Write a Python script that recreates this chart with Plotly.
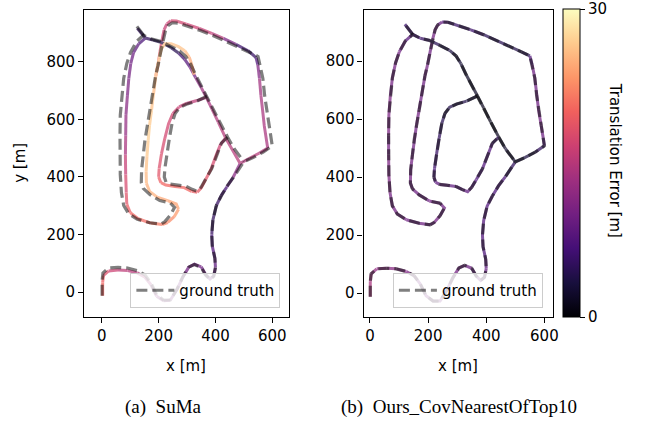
import plotly.graph_objects as go
from plotly.colors import sequential, make_colorscale, sample_colorscale, unlabel_rgb

# ---------------- data (metres) ----------------
gt_main_x = [1, 1, 4, 23, 57, 91, 125, 152, 173, 193,
             217, 241, 265, 285, 306, 326, 350, 365, 381, 394,
             400, 398, 389, 387, 391, 403, 421, 442, 466, 500,
             534, 568, 600, 596, 589, 580, 573, 567, 558, 550,
             521, 476, 432, 391, 347, 302, 268, 248, 233, 224,
             215, 207, 198, 189, 178, 169, 160, 152, 146, 140,
             139, 146, 169, 204, 241, 256, 241, 221, 207, 169,
             125, 94, 77, 69, 65, 64, 64, 65, 70, 77,
             88, 101, 122, 147, 173, 206, 241, 274, 296, 313,
             331, 350, 370, 391, 415, 443, 466, 500]
gt_main_y = [-12, 39, 67, 84, 86, 84, 75, 60, 32, -9,
             -27, -27, 11, 53, 87, 96, 86, 60, 44, 55,
             85, 118, 160, 200, 250, 300, 335, 370, 402, 453,
             468, 486, 508, 535, 577, 632, 684, 742, 787, 818,
             832, 853, 874, 891, 908, 923, 934, 935, 925, 908,
             873, 832, 787, 749, 684, 632, 580, 529, 477, 425,
             380, 360, 339, 318, 310, 294, 267, 244, 236, 241,
             253, 273, 301, 346, 408, 477, 543, 615, 681, 742,
             794, 832, 870, 892, 879, 871, 854, 837, 818, 791,
             753, 715, 680, 639, 591, 538, 498, 453]
gt_loop_x = [370, 332, 298, 274, 258, 247, 238, 229, 222, 220, 226,
             240, 265, 296, 318, 336, 350, 366, 387, 409, 421, 443]
gt_loop_y = [680, 662, 652, 641, 620, 585, 535, 480, 430, 400, 382,
             375, 372, 368, 357, 350, 365, 392, 429, 486, 517, 538]
gt_stub_x = [147, 120]
gt_stub_y = [892, 927]

ours_main_err = [14, 14, 13, 12, 12, 11, 11, 10, 10, 10,
                 10, 10, 10, 10, 10, 10, 9, 9, 9, 9,
                 9, 8, 6, 9, 6, 9, 6, 8, 6, 4,
                 3, 4, 6, 9, 10, 10, 9, 10, 9, 6,
                 3, 5, 4, 5, 7, 4, 7, 8, 10, 10,
                 10, 9, 10, 10, 9, 10, 10, 9, 10, 10,
                 10, 10, 9, 10, 10, 9, 10, 10, 10, 9,
                 10, 10, 10, 10, 11, 10, 10, 11, 10, 10,
                 10, 10, 9, 7, 6, 5, 4, 4, 3, 3,
                 2, 2, 2, 1, 1, 2, 2, 3]
ours_loop_err = [3, 4, 4, 4, 4, 5, 5, 6, 6, 7, 8,
                 9, 9, 8, 8, 9, 8, 7, 7, 8, 7, 4]
ours_stub_err = [6, 6]

suma_main_x = [3, 3, 6, 24, 57, 91, 125, 152, 173, 193,
               217, 241, 265, 285, 306, 326, 350, 365, 381, 394,
               400, 398, 389, 387, 391, 403, 420, 440, 462, 487,
               520, 555, 584, 578, 572, 566, 560, 555, 549, 543,
               515, 472, 428, 387, 343, 298, 263, 243, 229, 219,
               212, 205, 198, 190, 182, 175, 168, 163, 159, 156,
               157, 168, 195, 232, 262, 270, 255, 232, 212, 172,
               128, 100, 88, 86, 84, 83, 84, 85, 90, 95,
               102, 112, 130, 153, 180, 211, 243, 270, 292, 310,
               330, 350, 368, 388, 410, 436, 458, 487]
suma_main_y = [-12, 35, 58, 74, 77, 75, 67, 52, 26, -14,
               -30, -28, 10, 52, 87, 97, 88, 62, 46, 57,
               86, 118, 160, 200, 250, 300, 335, 365, 398, 447,
               465, 483, 500, 532, 577, 632, 684, 742, 790, 814,
               838, 860, 881, 898, 915, 930, 941, 942, 931, 910,
               875, 835, 790, 750, 688, 632, 578, 525, 472, 420,
               378, 350, 330, 318, 306, 288, 262, 242, 235, 240,
               255, 276, 305, 346, 408, 477, 543, 615, 681, 742,
               794, 832, 862, 882, 875, 866, 849, 830, 808, 782,
               745, 710, 676, 635, 590, 535, 497, 447]
suma_main_err = [20, 20, 19, 17, 16, 15, 15, 14, 13, 12,
                 11, 11, 10, 10, 10, 10, 10, 9, 9, 9,
                 9, 8, 7, 6, 5, 5, 6, 7, 9, 14,
                 15, 15, 14, 14, 14, 14, 14, 13, 9, 6,
                 5, 7, 14, 16, 16, 17, 17, 17, 16, 16,
                 17, 18, 20, 25, 26, 26, 27, 27, 26, 26,
                 25, 25, 25, 24, 24, 24, 23, 22, 22, 21,
                 20, 20, 19, 18, 17, 15, 13, 12, 11, 10,
                 10, 9, 8, 6, 4, 4, 4, 5, 7, 9,
                 11, 13, 14, 14, 15, 15, 15, 15]
suma_loop_x = [368, 335, 298, 272, 250, 235, 222, 210, 202, 200, 208,
               225, 258, 290, 316, 336, 350, 365, 385, 405, 418, 436]
suma_loop_y = [676, 665, 655, 643, 620, 585, 535, 480, 430, 400, 380,
               372, 367, 363, 350, 347, 362, 390, 428, 482, 513, 535]
suma_loop_err = [14, 15, 16, 16, 17, 17, 17, 18, 18, 19, 20,
                 20, 20, 20, 20, 19, 19, 19, 18, 17, 16, 15]
suma_stub_x = [153, 125]
suma_stub_y = [882, 916]
suma_stub_err = [5, 5]
suma_extra_x = [325, 318, 308, 292, 270, 244, 222, 210, 202, 195, 190]
suma_extra_y = [755, 785, 815, 838, 852, 862, 862, 845, 812, 780, 750]
suma_extra_err = [22, 24, 25, 26, 26, 26, 26, 26, 26, 25, 25]

err_max = 30
x_ticks = [0, 200, 400, 600]
y_ticks = [0, 200, 400, 600, 800]

# ---------------- helpers ----------------
W, H = 646, 422
CS = make_colorscale(sequential.Magma)
ALPHA = 0.72
FONT = "DejaVu Sans"


def err_color(v):
    t = min(max(v / err_max, 0.0), 1.0)
    r, g, b = unlabel_rgb(sample_colorscale(CS, [t])[0])
    r, g, b = [ALPHA * c + (1 - ALPHA) * 255 for c in (r, g, b)]
    return "rgb(%d,%d,%d)" % (round(r), round(g), round(b))


def add_colored(fig, xs, ys, errs, xa, ya):
    n = len(xs)
    i = 0
    while i < n - 1:
        c = err_color((errs[i] + errs[i + 1]) / 2)
        j = i + 1
        while j < n - 1 and err_color((errs[j] + errs[j + 1]) / 2) == c:
            j += 1
        fig.add_trace(go.Scatter(x=xs[i:j + 1], y=ys[i:j + 1], mode="lines",
                                 line=dict(color=c, width=3),
                                 showlegend=False, hoverinfo="skip",
                                 xaxis=xa, yaxis=ya))
        i = j


def px2fx(p):
    return p / W


def px2fy(p):
    return 1 - p / H


fig = go.Figure()

# SuMa panel
add_colored(fig, suma_main_x, suma_main_y, suma_main_err, "x", "y")
add_colored(fig, suma_loop_x, suma_loop_y, suma_loop_err, "x", "y")
add_colored(fig, suma_stub_x, suma_stub_y, suma_stub_err, "x", "y")
add_colored(fig, suma_extra_x, suma_extra_y, suma_extra_err, "x", "y")
# Ours panel
add_colored(fig, gt_main_x, gt_main_y, ours_main_err, "x2", "y2")
add_colored(fig, gt_loop_x, gt_loop_y, ours_loop_err, "x2", "y2")
add_colored(fig, gt_stub_x, gt_stub_y, ours_stub_err, "x2", "y2")

gt_x = gt_main_x + [None] + gt_loop_x + [None] + gt_stub_x
gt_y = gt_main_y + [None] + gt_loop_y + [None] + gt_stub_y
for xa, ya, lg in (("x", "y", "legend"), ("x2", "y2", "legend2")):
    fig.add_trace(go.Scatter(x=gt_x, y=gt_y, mode="lines", name="ground truth",
                             line=dict(color="rgba(0,0,0,0.5)", width=3.2, dash="11px,5px"),
                             xaxis=xa, yaxis=ya, legend=lg, hoverinfo="skip"))

# colorbar carrier
fig.add_trace(go.Scatter(
    x=[-5000], y=[-5000], mode="markers", showlegend=False, hoverinfo="skip",
    xaxis="x2", yaxis="y2",
    marker=dict(size=2, color=[0], colorscale="Magma", cmin=0, cmax=err_max,
                showscale=True,
                colorbar=dict(x=px2fx(568), xanchor="left", xpad=0,
                              y=px2fy(317), yanchor="bottom", ypad=0,
                              len=(317 - 9.5) / H, lenmode="fraction",
                              thickness=17, thicknessmode="pixels",
                              outlinewidth=1, outlinecolor="black",
                              tickvals=[0, err_max], ticks="outside", ticklen=5,
                              tickwidth=1.2, tickcolor="black",
                              tickfont=dict(family=FONT, size=15, color="black")))))

axis_common = dict(showgrid=False, zeroline=False, showline=True, mirror=True,
                   linecolor="black", linewidth=1.3, ticks="outside", ticklen=5,
                   tickwidth=1.2, tickcolor="black",
                   tickfont=dict(family=FONT, size=15, color="black"))

legend_common = dict(yanchor="bottom", y=px2fy(308), xanchor="right",
                     bgcolor="rgba(255,255,255,0.8)", bordercolor="#cccccc",
                     borderwidth=1, itemwidth=38,
                     font=dict(family=FONT, size=15, color="black"))

y_dom = [px2fy(317), px2fy(9.5)]
fig.update_layout(
    width=W, height=H, margin=dict(l=0, r=0, t=0, b=0),
    paper_bgcolor="white", plot_bgcolor="white",
    xaxis=dict(domain=[px2fx(85), px2fx(292)], range=[-62, 660], tickvals=x_ticks,
               anchor="y", **axis_common),
    yaxis=dict(domain=y_dom, range=[-86, 981], tickvals=y_ticks, anchor="x", **axis_common),
    xaxis2=dict(domain=[px2fx(367), px2fx(558)], range=[-22, 629], tickvals=x_ticks,
                anchor="y2", **axis_common),
    yaxis2=dict(domain=y_dom, range=[-82, 978], tickvals=y_ticks, anchor="x2", **axis_common),
    legend=dict(x=px2fx(283), **legend_common),
    legend2=dict(x=px2fx(548), **legend_common),
)

annots = [
    dict(text="y [m]", x=px2fx(20), y=px2fy(163), textangle=-90),
    dict(text="x [m]", x=px2fx(188), y=px2fy(366)),
    dict(text="x [m]", x=px2fx(462), y=px2fy(366)),
    dict(text="Translation Error [m]", x=px2fx(621), y=px2fy(160), textangle=90),
]
for a in annots:
    fig.add_annotation(xref="paper", yref="paper", showarrow=False,
                       font=dict(family=FONT, size=15, color="black"),
                       xanchor="center", yanchor="middle", **a)
for text, cx in (("(a)  SuMa", 165), ("(b)  Ours_CovNearestOfTop10", 463)):
    fig.add_annotation(xref="paper", yref="paper", showarrow=False, text=text,
                       x=px2fx(cx), y=px2fy(407), xanchor="center", yanchor="middle",
                       font=dict(family="Liberation Serif", size=19, color="black"))

fig.write_html("out.html", config={"displayModeBar": False},
               post_script="document.body.style.margin='0px';")
